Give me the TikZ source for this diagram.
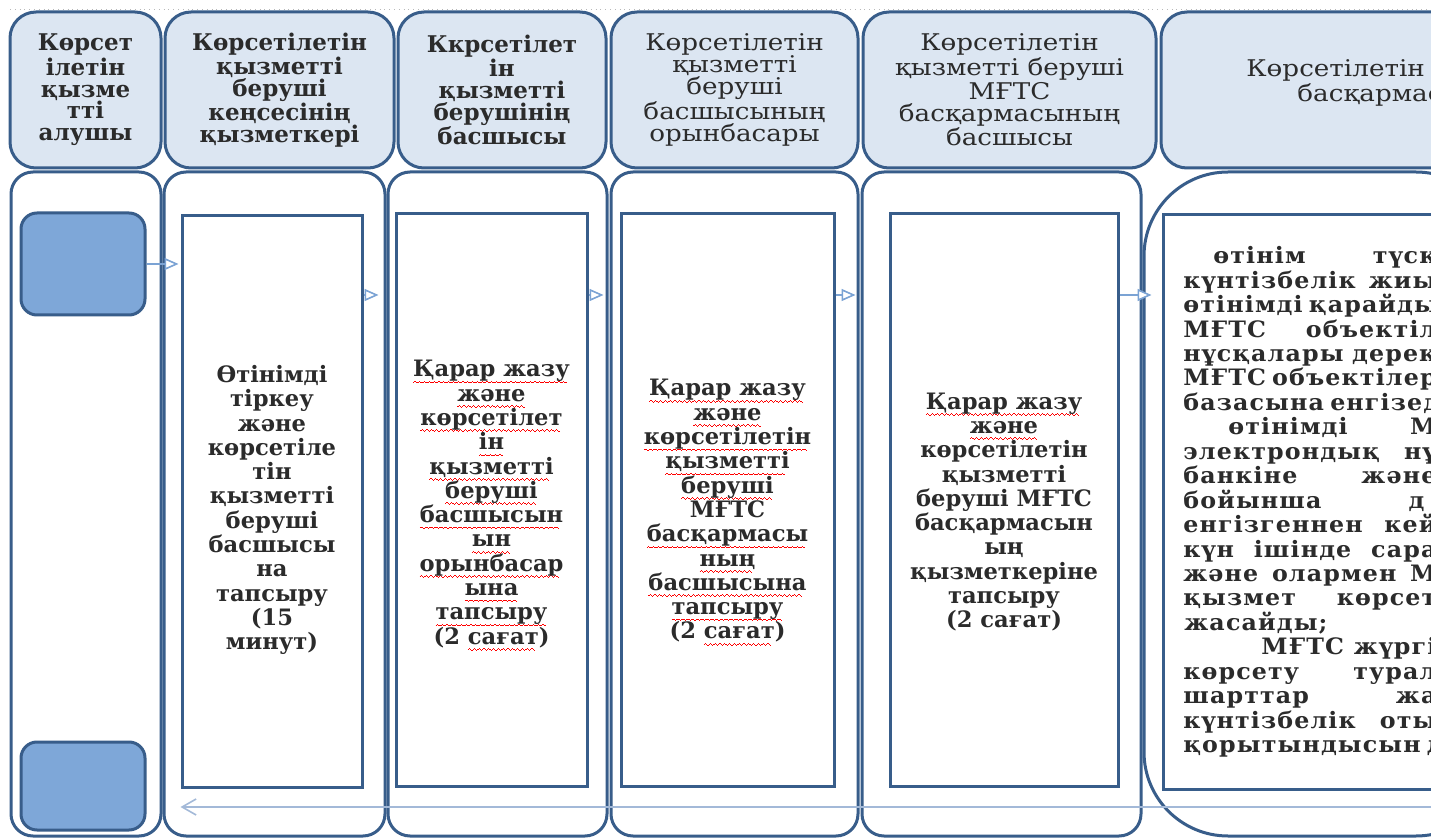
\documentclass[tikz,border=0pt]{standalone}
\usepackage{fontspec}
\setmainfont{DejaVu Serif}
\newfontfamily\headwide[FakeStretch=1.14]{DejaVu Serif}
\newfontfamily\textwide[FakeStretch=1.05,LetterSpace=5]{DejaVu Serif}
\usetikzlibrary{arrows.meta}

\definecolor{frame}{HTML}{385D8A}
\definecolor{headfill}{HTML}{DCE6F2}
\definecolor{actfill}{HTML}{7EA7D8}
\definecolor{flow}{HTML}{7BA3D4}
\definecolor{back}{HTML}{A3B9D8}
\definecolor{ink}{HTML}{2B2B2B}

\newdimen\pxu \pxu=0.5pt
% red spell-check wave under a word
\newcommand\wavetile{\rule[-0.2pt]{0.6pt}{0.4pt}\rule[0.2pt]{0.6pt}{0.4pt}%
    \rule[-0.2pt]{0.6pt}{0.4pt}\rule[-0.6pt]{0.6pt}{0.4pt}}
\newcommand\rw[1]{\setbox0\hbox{#1}\leavevmode\rlap{\raisebox{-2.6pt}[0pt][0pt]{\color{red}%
    \hbox to\wd0{\leaders\hbox{\wavetile}\hfill}}}\box0}

\begin{document}
\begin{tikzpicture}[x=0.5pt,y=-0.5pt,
    head/.style={draw=frame,line width=1.5pt,fill=headfill,rounded corners=13pt,
        minimum height=78pt,inner sep=0pt,align=center,text=ink,
        font=\fontsize{11.5pt}{10.9pt}\selectfont\bfseries},
    light/.style={font=\headwide\fontsize{11.5pt}{10.9pt}\selectfont},
    lane/.style={draw=frame,line width=1.5pt,fill=white,rounded corners=11pt,
        minimum height=332pt,inner sep=0pt},
    task/.style={draw=frame,line width=1.5pt,fill=white,minimum height=286pt,inner sep=0pt},
    actor/.style={draw=frame,line width=1.5pt,fill=actfill,rounded corners=8pt,
        minimum width=62pt,inner sep=0pt},
    note/.style={align=center,text=ink,inner sep=0pt,font=\fontsize{11.3pt}{12.15pt}\selectfont\bfseries},
    flow/.style={draw=flow,line width=0.8pt,-{Triangle[length=7pt,width=6pt,fill=white]}},
    back/.style={draw=back,line width=0.8pt,-{Straight Barb[length=7pt,width=8pt]}}]
    \useasboundingbox (0,0) rectangle (1431,839);
    \clip (0,0) rectangle (1431,839);

    \draw[gray!55,dotted] (10,9) -- (1431,9);

    % lanes
    \node[lane,minimum width=75pt] (c1) at (86,504) {};
    \node[lane,minimum width=110.5pt] (c2) at (274.5,504) {};
    \node[lane,minimum width=109.5pt] (c3) at (497.5,504) {};
    \node[lane,minimum width=123.5pt] (c4) at (734.5,504) {};
    \node[lane,minimum width=139.5pt] (c5) at (1001.5,504) {};
    \node[lane,minimum width=178pt,rounded corners=42pt] (c6) at (1322,504) {};

    % headers
    \node[head,minimum width=75.5pt] (h1) at (85.5,90)
        {Көрсет\\ілетін\\қызме\\тті\\алушы};
    \node[head,minimum width=114.5pt] (h2) at (279.5,90)
        {Көрсетілетін\\қызметті\\беруші\\кеңсесінің\\қызметкері};
    \node[head,minimum width=104pt] (h3) at (502,90)
        {Ккрсетілет\\ін\\қызметті\\берушінің\\басшысы};
    \node[head,light,minimum width=123.5pt] (h4) at (734.5,90)
        {Көрсетілетін\\қызметті\\беруші\\басшысының\\орынбасары};
    \node[head,light,minimum width=146.5pt] (h5) at (1009.5,90)
        {Көрсетілетін\\қызметті беруші\\МҒТС\\басқармасының\\басшысы};
    \node[head,minimum width=220pt] (h6) at (1381,90) {};
    \node[light,anchor=west,align=left,text=ink,inner sep=0pt] (t6)
        at (1246,83) {Көрсетілетін қ\\\hspace*{25.5pt}басқармас};

    % start and end
    \node[actor,minimum height=51pt] (s1) at (83,264) {};
    \node[actor,minimum height=44pt] (s2) at (83,786) {};

    % steps
    \node[task,minimum width=90pt] (r2) at (272,501.5) {};
    \node[task,minimum width=95.5pt] (r3) at (491.5,500) {};
    \node[task,minimum width=106.5pt] (r4) at (727.5,500) {};
    \node[task,minimum width=114pt] (r5) at (1004,500) {};
    \node[task,minimum width=218.5pt,minimum height=287pt] (r6) at (1381.5,502) {};

    \node[note] (t2) at (272,510) {Өтінімді\\тіркеу\\және\\көрсетіле\\тін\\қызметті\\беруші\\басшысы\\на\\тапсыру\\(15\\минут)};
    \node[note] (t3) at (491.5,504) {\rw{Қарар жазу}\\\rw{және}\\\rw{көрсетілет}\\\rw{ін}\\\rw{қызметті}\\\rw{беруші}\\\rw{басшысын}\\\rw{ын}\\\rw{орынбасар}\\\rw{ына}\\\rw{тапсыру}\\(2 \rw{сағат})};
    \node[note] (t4) at (727.5,511) {\rw{Қарар жазу}\\\rw{және}\\\rw{көрсетілетін}\\\rw{қызметті}\\\rw{беруші}\\МҒТС\\\rw{басқармасы}\\\rw{ның}\\\rw{басшысына}\\\rw{тапсыру}\\(2 \rw{сағат})};
    \node[note] (t5) at (1004,512) {\rw{Қарар жазу}\\\rw{және}\\көрсетілетін\\қызметті\\беруші МҒТС\\басқармасын\\ың\\қызметкеріне\\тапсыру\\(2 сағат)};

    % justified lines in the last step
    \foreach \xs/\ws/\tx [count=\i] in {1213/223/өтінім түск,
        1183/253/күнтізбелік жиы, 1183/253/өтінімді қарайды,
        1183/253/МҒТС объектіл, 1183/253/нұсқалары дерек,
        1183/253/МҒТС объектілер, 1183/253/базасына енгізед,
        1228/208/өтінімді М, 1183/253/электрондық нұ,
        1183/253/банкіне және, 1183/241/бойынша д,
        1183/253/енгізгеннен кей, 1183/253/күн ішінде сара,
        1183/253/және олармен М, 1183/253/қызмет көрсет,
        1183/0/жасайды;, 1261/175/МҒТС жүргі,
        1183/253/көрсету турал, 1183/253/шарттар жа,
        1183/253/күнтізбелік оты, 1183/253/қорытындысын д}
        \node[anchor=base west,inner sep=0pt,text=ink,
            font=\textwide\fontsize{11.3pt}{12pt}\selectfont\bfseries]
            (p\i) at (\xs,{263.8+24.44*(\i-1)}) {\makebox[\ws\pxu][s]{\tx}};

    % arrows
    \coordinate (lvl) at (0,295);
    \coordinate (ret) at (1431,807);
    \draw[flow,shorten >=1pt] (s1.east) -- (r2.west |- s1.east);
    \draw[flow,shorten >=8pt] (r2.east |- lvl) -- (r3.west |- lvl);
    \draw[flow,shorten >=8pt] (r3.east |- lvl) -- (r4.west |- lvl);
    \draw[flow,shorten >=16.5pt] (r4.east |- lvl) -- (r5.west |- lvl);
    \draw[flow,shorten >=5pt] (r5.east |- lvl) -- (r6.west |- lvl);
    \draw[back] (ret) -- (r2.west |- ret);
\end{tikzpicture}
\end{document}
